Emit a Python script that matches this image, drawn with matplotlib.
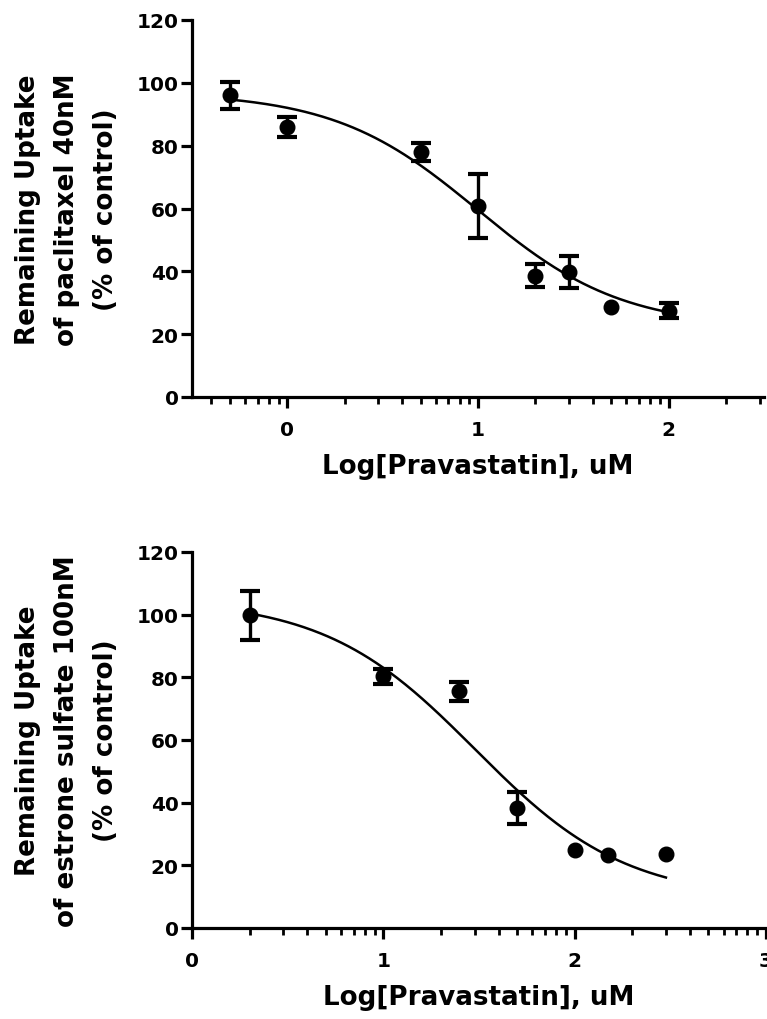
import numpy as np
import matplotlib
matplotlib.use("Agg")
import matplotlib.pyplot as plt

plt.rcParams['font.family'] = ['DejaVu Sans']
plt.rcParams['font.weight'] = 'bold'

# --- top panel: paclitaxel 40nM ---
top_x = [-0.301, 0.0, 0.699, 1.0, 1.301, 1.477, 1.699, 2.0]
top_y = [96.0, 86.0, 78.0, 60.8, 38.6, 39.8, 28.5, 27.5]
top_err = [4.3, 3.2, 3.0, 10.1, 3.6, 5.0, 0.0, 2.5]
top_fit = dict(top=97.0, bottom=22.0, logic50=1.0, hill=1.15)
top_xlim = (-0.5, 2.5)
top_ylabel = "Remaining Uptake\nof paclitaxel 40nM\n(% of control)"

# --- bottom panel: estrone sulfate 100nM ---
bot_x = [0.301, 1.0, 1.398, 1.699, 2.0, 2.176, 2.477]
bot_y = [99.8, 80.3, 75.5, 38.3, 24.9, 23.2, 23.6]
bot_err = [7.8, 2.3, 3.0, 5.0, 0.0, 0.0, 0.0]
bot_fit = dict(top=105.0, bottom=9.0, logic50=1.48, hill=1.1)
bot_xlim = (0, 3)
bot_ylabel = "Remaining Uptake\nof estrone sulfate 100nM\n(% of control)"

xlabel = "Log[Pravastatin], uM"
yticks = [0, 20, 40, 60, 80, 100, 120]


def four_pl(x, top, bottom, logic50, hill):
    return bottom + (top - bottom) / (1 + 10 ** ((x - logic50) * hill))


def minor_log_ticks(lo, hi):
    ticks = []
    for dec in range(int(np.floor(lo)) - 1, int(np.ceil(hi)) + 1):
        for k in range(2, 10):
            t = dec + np.log10(k)
            if lo - 1e-9 <= t <= hi + 1e-9:
                ticks.append(t)
    return ticks


def draw_panel(ax, xs, ys, errs, fit, xlim, ylabel):
    xc = np.linspace(min(xs), max(xs), 300)
    ax.plot(xc, four_pl(xc, **fit), color='black', lw=1.8)
    # error bars shorter than the symbol are not drawn
    xs, ys, errs = np.array(xs), np.array(ys), np.array(errs)
    show = errs > 0
    ax.errorbar(xs[show], ys[show], yerr=errs[show], fmt='none', ecolor='black',
                elinewidth=2.4, capsize=7, capthick=3)
    ax.plot(xs, ys, 'o', color='black', ms=10.5)
    ax.set_xlim(*xlim)
    ax.set_ylim(0, 120)
    ax.set_yticks(yticks)
    ax.set_xticks(range(int(np.ceil(xlim[0])), int(np.floor(xlim[1])) + 1))
    ax.set_xticks(minor_log_ticks(*xlim), minor=True)
    for s in ['top', 'right']:
        ax.spines[s].set_visible(False)
    for s in ['left', 'bottom']:
        ax.spines[s].set_linewidth(2.3)
    ax.tick_params(axis='both', which='major', length=8, width=2.3,
                   labelsize=14.4, pad=1.5)
    ax.tick_params(axis='x', which='major', pad=8.5)
    ax.tick_params(axis='x', which='minor', length=5, width=2.0)
    ax.set_xlabel(xlabel, fontsize=18.8, fontweight='bold', labelpad=10.5)
    ax.set_ylabel(ylabel, fontsize=18.8, fontweight='bold', va='center',
                  linespacing=1.65)
    ax.yaxis.set_label_coords(-0.218, 0.5)


fig = plt.figure(figsize=(7.67, 10.2), dpi=100)
ax1 = fig.add_axes([192 / 767, 1 - 398 / 1020, 572 / 767, 377 / 1020])
ax2 = fig.add_axes([192 / 767, 1 - 929 / 1020, 574 / 767, 376 / 1020])

draw_panel(ax1, top_x, top_y, top_err, top_fit, top_xlim, top_ylabel)
draw_panel(ax2, bot_x, bot_y, bot_err, bot_fit, bot_xlim, bot_ylabel)

fig.savefig("out.png", dpi=100)
